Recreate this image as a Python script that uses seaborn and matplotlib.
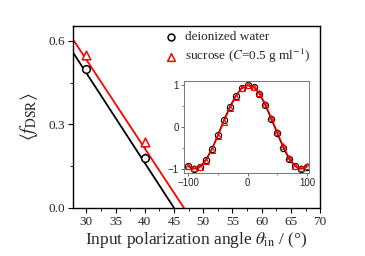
import matplotlib
matplotlib.use("Agg")
import matplotlib.pyplot as plt
import seaborn as sns
import pandas as pd
from matplotlib.ticker import MultipleLocator

# main panel data
theta = [30, 40]
water = [0.50, 0.18]
water_err = [0.012, 0.018]
sucrose = [0.55, 0.235]
sucrose_err = [0.012, 0.018]

# linear fit lines (endpoints)
fit_x_water = [27.7, 45.0]
fit_y_water = [0.558, 0.0]
fit_x_sucrose = [27.7, 46.7]
fit_y_sucrose = [0.605, 0.0]

# inset data
inset_theta = [-100, -90, -80, -70, -60, -50, -40, -30, -20, -10, 0,
               10, 20, 30, 40, 50, 60, 70, 80, 90, 100]
inset_water = [-0.94, -1.0, -0.95, -0.78, -0.52, -0.19, 0.16, 0.48, 0.75, 0.93, 1.0,
               0.96, 0.80, 0.52, 0.19, -0.15, -0.49, -0.77, -0.94, -1.0, -0.95]
inset_sucrose = [-0.93, -0.99, -0.95, -0.80, -0.54, -0.22, 0.13, 0.45, 0.73, 0.93, 1.0,
                 0.97, 0.81, 0.55, 0.22, -0.12, -0.46, -0.74, -0.93, -0.99, -0.94]

sns.set_theme(style="ticks")
plt.rcParams["font.family"] = ["Liberation Serif", "DejaVu Serif"]
plt.rcParams["mathtext.fontset"] = "stix"

fig = plt.figure(figsize=(3.65, 2.56), dpi=100)
ax = fig.add_axes([0.2, 0.1875, 0.677, 0.711])

df_fw = pd.DataFrame({"x": fit_x_water, "y": fit_y_water})
df_fs = pd.DataFrame({"x": fit_x_sucrose, "y": fit_y_sucrose})
sns.lineplot(data=df_fw, x="x", y="y", color="black", lw=1.3, ax=ax)
sns.lineplot(data=df_fs, x="x", y="y", color="red", lw=1.3, ax=ax)

ax.errorbar(theta, water, yerr=water_err, fmt="none", ecolor="black", elinewidth=0.8, capsize=0)
ax.errorbar(theta, sucrose, yerr=sucrose_err, fmt="none", ecolor="red", elinewidth=0.8, capsize=0)

df_w = pd.DataFrame({"x": theta, "y": water})
df_s = pd.DataFrame({"x": theta, "y": sucrose})
sns.scatterplot(data=df_w, x="x", y="y", marker="o", s=30, facecolor="white",
                edgecolor="black", linewidth=1.1, ax=ax, label="deionized water", zorder=5)
sns.scatterplot(data=df_s, x="x", y="y", marker="^", s=38, facecolor="white",
                edgecolor="red", linewidth=1.1, ax=ax, label=r"sucrose ($C$=0.5 g ml$^{-1}$)", zorder=5)

ax.set_xlim(27.7, 70)
ax.set_ylim(0, 0.653)
ax.set_xticks([30, 35, 40, 45, 50, 55, 60, 65, 70])
ax.set_yticks([0.0, 0.3, 0.6])
ax.set_yticklabels(["0.0", "0.3", "0.6"])
ax.xaxis.set_minor_locator(MultipleLocator(2.5))
ax.yaxis.set_minor_locator(MultipleLocator(0.15))
ax.tick_params(which="major", length=3.5, width=0.8, labelsize=9.5, pad=2, color="black")
ax.tick_params(which="minor", length=2, width=0.6, color="black")
for sp in ax.spines.values():
    sp.set_linewidth(1.0)
    sp.set_color("black")
ax.set_xlabel(r"Input polarization angle $\theta_{\rm in}$ / (°)", fontsize=12.5, labelpad=2)
ax.set_ylabel(r"$\langle f_{\rm DSR}\rangle$", fontsize=14, labelpad=6)

leg = ax.legend(loc="upper left", bbox_to_anchor=(0.335, 1.02), frameon=False, fontsize=9.5,
                handletextpad=0.6, labelspacing=0.3, handlelength=1.0, borderpad=0.15,
                markerscale=0.9)

# inset
axi = fig.add_axes([0.504, 0.324, 0.342, 0.359])
df_iw = pd.DataFrame({"x": inset_theta, "y": inset_water})
df_is = pd.DataFrame({"x": inset_theta, "y": inset_sucrose})
sns.lineplot(data=df_iw, x="x", y="y", color="black", lw=1.0, marker="o", markersize=4.5,
             markerfacecolor="none", markeredgecolor="black", markeredgewidth=0.8, ax=axi)
sns.lineplot(data=df_is, x="x", y="y", color="red", lw=1.0, marker="^", markersize=5,
             markerfacecolor="none", markeredgecolor="red", markeredgewidth=0.8, ax=axi)
axi.set_xlim(-107, 103)
axi.set_ylim(-1.1, 1.1)
axi.set_xticks([-100, 0, 100])
axi.set_yticks([-1, 0, 1])
axi.yaxis.set_minor_locator(MultipleLocator(0.5))
axi.xaxis.set_minor_locator(MultipleLocator(50))
axi.set_xlabel("")
axi.set_ylabel("")
for lab in axi.get_xticklabels() + axi.get_yticklabels():
    lab.set_family("Liberation Sans")
axi.tick_params(which="major", length=2, width=0.6, labelsize=7, pad=1.5, color="#555555")
axi.tick_params(which="minor", length=1.2, width=0.5, color="#555555")
for sp in axi.spines.values():
    sp.set_linewidth(0.7)
    sp.set_color("#777777")

fig.savefig("out.png", dpi=100)
